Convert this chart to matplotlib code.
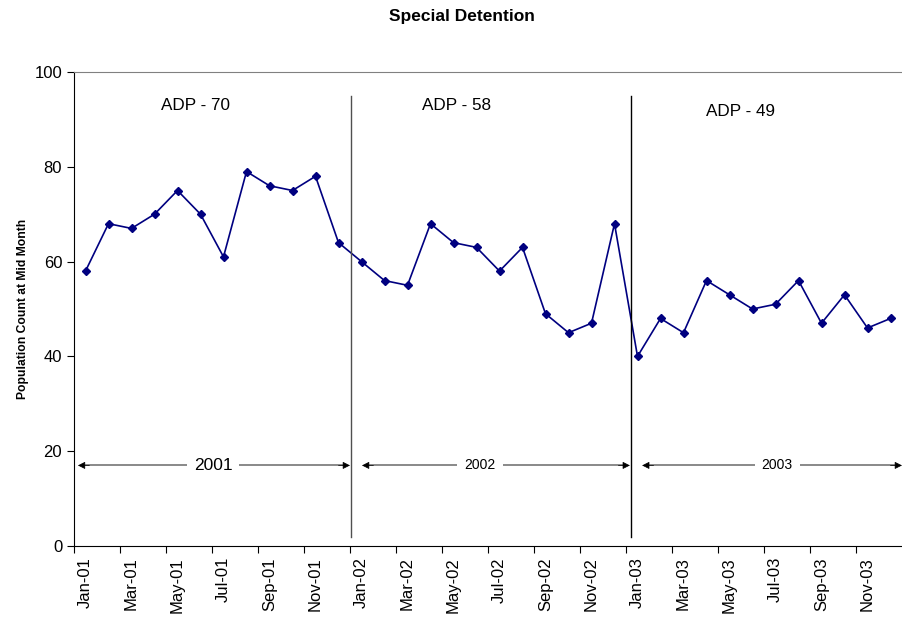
import matplotlib.pyplot as plt

plt.rcParams['font.family'] = ['Liberation Sans', 'DejaVu Sans']

months = ['Jan', 'Feb', 'Mar', 'Apr', 'May', 'Jun', 'Jul', 'Aug', 'Sep', 'Oct', 'Nov', 'Dec']
years = ['01', '02', '03']
labels = [m + '-' + y for y in years for m in months]
counts = [58, 68, 67, 70, 75, 70, 61, 79, 76, 75, 78, 64,
          60, 56, 55, 68, 64, 63, 58, 63, 49, 45, 47, 68,
          40, 48, 45, 56, 53, 50, 51, 56, 47, 53, 46, 48]
adp = ['ADP - 70', 'ADP - 58', 'ADP - 49']
year_names = ['2001', '2002', '2003']

fig = plt.figure(figsize=(9.02, 6.17), dpi=100)
ax = fig.add_axes([74 / 902, 71 / 617, 1 - 74 / 902, 474 / 617])

x = list(range(len(counts)))
ax.plot(x, counts, color='#000080', lw=1.2, marker='D', ms=4.5)

ax.set_xlim(-0.5, 35.5)
ax.set_ylim(0, 100)
ax.set_yticks(range(0, 101, 20))
ax.set_xticks([i - 0.5 for i in range(0, 36, 2)])
ax.set_xticklabels([])
ax.set_xticks(x[::2], minor=True)
ax.set_xticklabels(labels[::2], minor=True, rotation=90)
ax.tick_params(axis='x', which='minor', length=0, pad=8, labelsize=12)
ax.tick_params(axis='x', which='major', length=5, direction='out')
ax.tick_params(axis='y', length=5, labelsize=12)

ax.spines['right'].set_visible(False)
ax.spines['top'].set_color('#808080')

# section dividers
ax.plot([11.54, 11.54], [2, 95], color='#505050', lw=1)
ax.plot([23.7, 23.7], [2, 95], color='black', lw=1)

# ADP labels
ax.text(4.8, 93, adp[0], ha='center', va='center', fontsize=12.3)
ax.text(16.15, 93, adp[1], ha='center', va='center', fontsize=12.3)
ax.text(28.5, 91.6, adp[2], ha='center', va='center', fontsize=12.3)

# year arrows
spans = [(-0.33, 11.5, 5.55, 12.5), (12.02, 23.67, 17.15, 10), (24.2, 35.5, 30.07, 10)]
for (a, b, c, fs), name in zip(spans, year_names):
    ax.plot([a + 0.3, b - 0.3], [17, 17], color='#808080', lw=1.3)
    ax.annotate('', xy=(a, 17), xytext=(a + 0.5, 17),
                arrowprops=dict(arrowstyle='-|>', color='black', lw=0.5,
                                shrinkA=0, shrinkB=0, mutation_scale=11))
    ax.annotate('', xy=(b, 17), xytext=(b - 0.5, 17),
                arrowprops=dict(arrowstyle='-|>', color='black', lw=0.5,
                                shrinkA=0, shrinkB=0, mutation_scale=11))
    ax.text(c, 17, name, ha='center', va='center', fontsize=fs,
            bbox=dict(facecolor='white', edgecolor='none', pad=5))

ax.set_ylabel('Population Count at Mid Month', fontsize=8.7, fontweight='bold', labelpad=4)
fig.suptitle('Special Detention', fontsize=12.5, fontweight='bold', x=0.512, y=0.985)

fig.savefig('out.png', dpi=100)
